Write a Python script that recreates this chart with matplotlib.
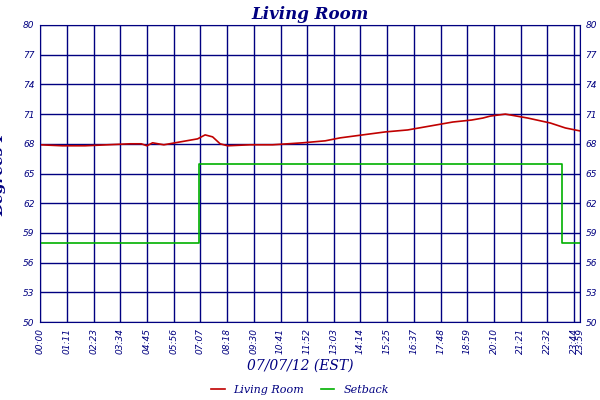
import matplotlib
matplotlib.use("Agg")
import matplotlib.pyplot as plt

tick_min = [0,71,143,214,285,356,427,498,570,641,712,783,854,925,997,1068,1139,1210,1281,1352,1424,1439]
tick_lbl = ["00:00","01:11","02:23","03:34","04:45","05:56","07:07","08:18","09:30","10:41","11:52","13:03",
            "14:14","15:25","16:37","17:48","18:59","20:10","21:21","22:32","23:44","23:59"]
temp_t = [0,60,120,180,240,270,285,300,330,360,420,440,460,480,500,560,620,700,760,800,860,920,980,1040,1100,1150,1180,1200,1240,1300,1360,1400,1439]
temp_v = [67.9,67.8,67.8,67.9,68.0,68.0,67.8,68.1,67.9,68.1,68.5,68.9,68.7,68.0,67.8,67.9,67.9,68.1,68.3,68.6,68.9,69.2,69.4,69.8,70.2,70.4,70.6,70.8,71.0,70.6,70.1,69.6,69.3]
set_t = [0,423,423,1392,1392,1439]
set_v = [58,58,66,66,58,58]

navy = "#000080"
fig = plt.figure(figsize=(6,4), dpi=100)
ax = fig.add_axes([40/600, 1-322/400, 540/600, 297/400])
ax.plot(temp_t, temp_v, color="#c00000", lw=1.2, label="Living Room")
ax.plot(set_t, set_v, color="#00b000", lw=1.2, label="Setback")
ax.set_xlim(0,1439); ax.set_ylim(50,80)
yt = list(range(50,81,3))
ax.set_yticks(yt)
ax.set_yticklabels([str(v) for v in yt], fontsize=6.5, style="italic", color=navy)
ax.set_xticks(tick_min)
ax.set_xticklabels(tick_lbl, rotation=90, fontsize=6.5, style="italic", color=navy)
ax.tick_params(length=0, pad=4)
ax.tick_params(axis="y", labelright=True)
ax.grid(True, color=navy, lw=1)
for s in ax.spines.values(): s.set_color(navy)
ax.set_axisbelow(True)
ax.set_title("Living Room", fontsize=12, style="italic", weight="bold", color=navy, family="DejaVu Serif", pad=4)
ax.set_ylabel("Degrees F", fontsize=11, style="italic", weight="bold", color=navy, family="DejaVu Serif", labelpad=12)
fig.text(0.5, 1-370/400, "07/07/12 (EST)", ha="center", fontsize=10, style="italic", color=navy, family="DejaVu Serif")
fig.legend(loc="center", bbox_to_anchor=(0.5, 1-390/400), ncol=2, frameon=False,
           prop={"style":"italic","family":"DejaVu Serif","size":8}, handlelength=1.2, columnspacing=1.5)
for t in fig.legends[0].get_texts(): t.set_color(navy)
fig.savefig("out.png", dpi=100)
